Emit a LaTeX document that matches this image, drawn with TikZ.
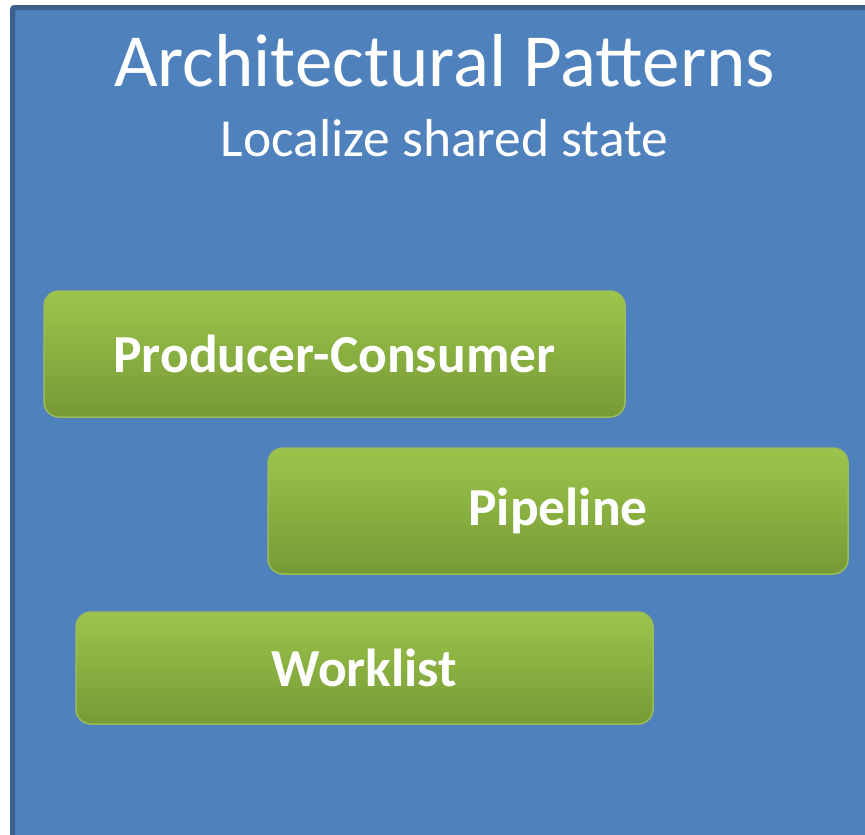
\documentclass[tikz,border=0pt]{standalone}
\usepackage{fontspec}
\setmainfont{Carlito}
\usepackage{xcolor}
\usepackage{tikz}
\usetikzlibrary{positioning, calc, backgrounds}
\definecolor{slideblue}{HTML}{4F81BD}
\definecolor{slideedge}{HTML}{3C5F8C}
\definecolor{greentop}{HTML}{9CC54B}
\definecolor{greenbot}{HTML}{779936}
\definecolor{greenedge}{HTML}{9BBB59}

\begin{document}
\begin{tikzpicture}[x=1pt, y=-1pt,
    pattern/.style={rectangle, rounded corners=15pt, draw=greenedge, line width=1.5pt,
        top color=greentop, bottom color=greenbot, text=white,
        font=\fontsize{53.5}{60}\selectfont\bfseries, minimum height=126pt},
    heading/.style={text=white, anchor=base}
]
\useasboundingbox (0,0) rectangle (865,835);

% Slide background
\draw[draw=slideedge, fill=slideblue, line width=5pt, rounded corners=2pt] (12.5,7.5) rectangle (890,860);

% Title
\node[heading, font=\fontsize{75}{80}\selectfont] (title) at (444.5,86) {Architectural Patterns};
\node[heading, font=\fontsize{53.5}{60}\selectfont] (subtitle) at (444.5,156) {Localize shared state};

% Patterns
\node[pattern, minimum width=581pt] (prodcons) at (334.5,354) {Producer-Consumer};
\node[pattern, minimum width=580pt] (pipeline) at (558,511) {Pipeline};
\node[pattern, minimum width=577pt, minimum height=112pt] (worklist) at (364.5,668) {Worklist};

\end{tikzpicture}
\end{document}
